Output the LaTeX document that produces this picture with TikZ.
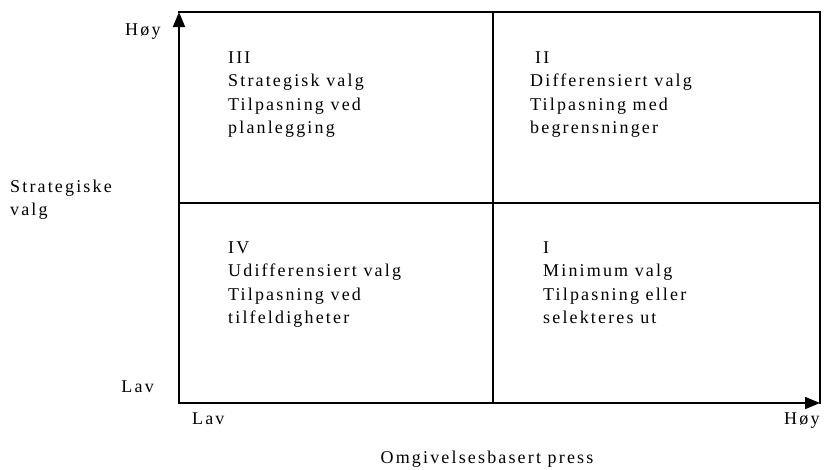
\documentclass[tikz,border=0pt]{standalone}
\usepackage{fontspec}
\setmainfont[LetterSpace=12]{Liberation Serif}
\usetikzlibrary{arrows.meta}
\tikzset{
  frame/.style={line width=1.7pt, line cap=rect},
  axis/.style={frame, -{Triangle[length=15pt,width=12pt]}},
  % multi-line texts are placed by the baseline of their last line
  lbl/.style={anchor=base west, inner sep=0pt, align=left,
    font=\fontsize{18}{23.5}\selectfont},
}
\begin{document}
\begin{tikzpicture}[x=1pt,y=-1pt]
\useasboundingbox (0,0) rectangle (824,469);
% corners and midpoints of the matrix
\coordinate (o)  at (179,403);
\coordinate (tl) at (179,12);
\coordinate (tr) at (820,12);
\coordinate (br) at (820,403);
\coordinate (ml) at (179,203);
\coordinate (mr) at (820,203);
\coordinate (mt) at (493,12);
\coordinate (mb) at (493,403);
% frame and dividing lines
\draw[frame] (tl) -- (tr) -- (br);
\draw[frame] (ml) -- (mr);
\draw[frame] (mt) -- (mb);
% axes
\draw[axis] (o) -- (tl);
\draw[axis] (o) -- (br);
% quadrant texts
\node[lbl] (q3) at (228,133.5) {III\\Strategisk valg\\Tilpasning ved\\planlegging};
\node[lbl] (q2) at (530,133.5) {\hspace*{5pt}II\\Differensiert valg\\Tilpasning med\\begrensninger};
\node[lbl] (q4) at (228,323.5) {IV\\Udifferensiert valg\\Tilpasning ved\\tilfeldigheter};
\node[lbl] (q1) at (543,323.5) {I\\Minimum valg\\Tilpasning eller\\selekteres ut};
% axis labels
\node[lbl] (yhi) at (125,35) {Høy};
\node[lbl, anchor=base east] (ylo) at (154,392) {Lav};
\node[lbl] (ytitle) at (10,215.5) {Strategiske\\valg};
\node[lbl] (xlo) at (192,424) {Lav};
\node[lbl] (xhi) at (784,424) {Høy};
\node[lbl, anchor=base] (xtitle) at (487,463) {Omgivelsesbasert press};
\end{tikzpicture}
\end{document}
